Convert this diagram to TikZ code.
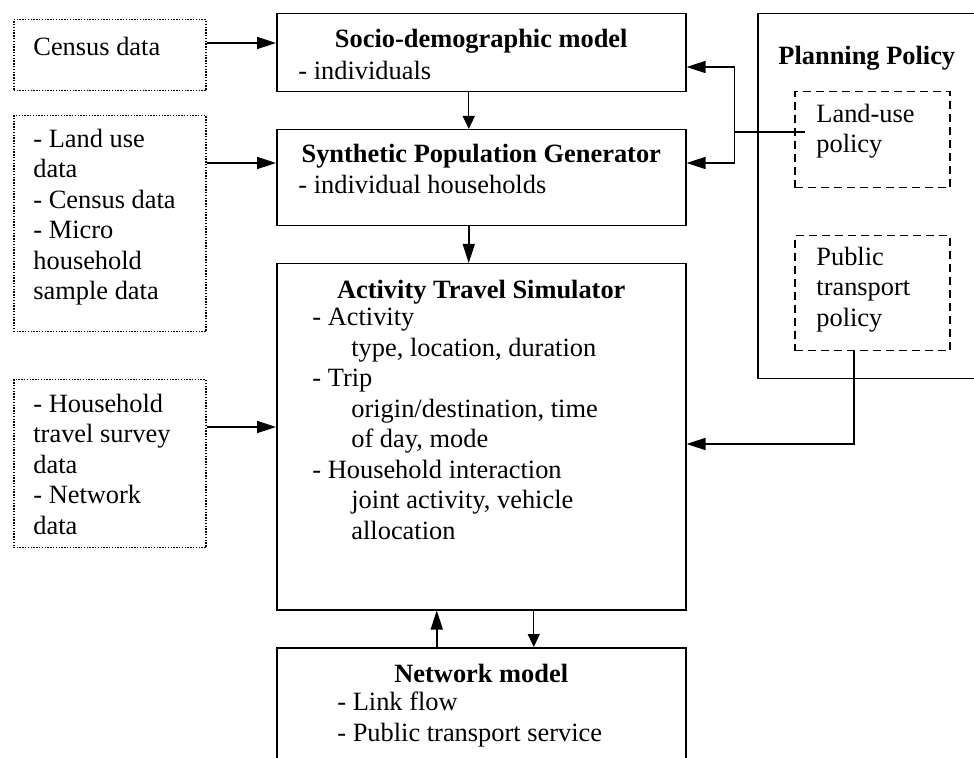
\documentclass[tikz,border=0pt]{standalone}
\usepackage{fontspec}
\setmainfont{Liberation Serif}
\usetikzlibrary{arrows.meta}

\newcommand{\indt}{\hspace*{19.5pt}}

\begin{document}
\begin{tikzpicture}[x=0.5pt,y=-0.5pt,>={Triangle[length=9.5pt,width=6pt]},
  every node/.style={font=\fontsize{13.2}{15.25}\selectfont},
  solidbox/.style={draw,line width=0.75pt,inner sep=0pt,anchor=north west},
  dotbox/.style={draw,line width=0.75pt,dash pattern=on 0.7pt off 0.7pt,inner sep=0pt,anchor=north west},
  dashbox/.style={draw,line width=0.75pt,dash pattern=on 4pt off 2.5pt,inner sep=0pt,anchor=north west},
  ttl/.style={anchor=base,font=\fontsize{13.2}{15.25}\selectfont\bfseries,inner sep=0pt},
  txt/.style={anchor=north west,yshift=10.675pt,align=left,inner sep=0pt,execute at begin node=\strut},
  link/.style={->,line width=0.8pt},
  thinlink/.style={-{Triangle[length=6.5pt,width=6pt]},line width=0.45pt}]
\useasboundingbox (0,0) rectangle (974,758);
\clip (0,0) rectangle (974,758);

% data sources
\node[dotbox,minimum width=96pt,minimum height=35.5pt] (census) at (13,19) {};
\node[dotbox,minimum width=96pt,minimum height=108pt] (landuse) at (13,115) {};
\node[dotbox,minimum width=96pt,minimum height=84pt] (hhdata) at (13,379) {};

% model chain
\node[solidbox,minimum width=204.5pt,minimum height=39pt] (socio) at (276,13) {};
\node[solidbox,minimum width=204.5pt,minimum height=48pt] (spg) at (276,129) {};
\node[solidbox,minimum width=204.5pt,minimum height=173pt] (ats) at (276,263) {};
\node[solidbox,minimum width=204.5pt,minimum height=80pt] (network) at (276,647) {};

% policy
\node[solidbox,minimum width=125pt,minimum height=182.5pt] (planning) at (757,13) {};
\node[dashbox,minimum width=77.5pt,minimum height=48pt] (lupolicy) at (794,91) {};
\node[dashbox,minimum width=77.5pt,minimum height=57.5pt] (ptpolicy) at (794,235) {};

% texts
\node[txt] (censustxt) at ([shift={(10pt,-18pt)}]census.north west) {Census data};
\node[txt] (landusetxt) at ([shift={(10pt,-17.5pt)}]landuse.north west) {- Land use\\data\\- Census data\\- Micro\\household\\sample data};
\node[txt] (hhdatatxt) at ([shift={(10pt,-18pt)}]hhdata.north west) {- Household\\travel survey\\data\\- Network\\data};

\node[ttl] (sociottl) at ([yshift=-17.5pt]socio.north) {Socio-demographic model};
\node[txt] (sociotxt) at ([shift={(11pt,-33pt)}]socio.north west) {- individuals};
\node[ttl] (spgttl) at ([yshift=-17pt]spg.north) {Synthetic Population Generator};
\node[txt] (spgtxt) at ([shift={(11pt,-32pt)}]spg.north west) {- individual households};
\node[ttl] (atsttl) at ([yshift=-18pt]ats.north) {Activity Travel Simulator};
\node[txt] (atstxt) at ([shift={(18pt,-33pt)}]ats.north west) {- Activity\\\indt type, location, duration\\- Trip\\\indt origin/destination, time\\\indt of day, mode\\- Household interaction\\\indt joint activity, vehicle\\\indt allocation};
\node[ttl] (networkttl) at ([yshift=-17.5pt]network.north) {Network model};
\node[txt] (networktxt) at ([shift={(30.5pt,-33pt)}]network.north west) {- Link flow\\- Public transport service};
\node[ttl,anchor=base west] (planningttl) at ([shift={(10.5pt,-26pt)}]planning.north west) {Planning Policy};
\node[txt] (lutxt) at ([shift={(11pt,-17pt)}]lupolicy.north west) {Land-use\\policy};
\node[txt] (pttxt) at ([shift={(11pt,-16.5pt)}]ptpolicy.north west) {Public\\transport\\policy};

% inputs
\coordinate (censusout) at ([yshift=-12pt]census.north east);
\draw[link] (censusout) -- (censusout -| socio.west);
\coordinate (landuseout) at ([yshift=-24pt]landuse.north east);
\draw[link] (landuseout) -- (landuseout -| spg.west);
\coordinate (hhdataout) at ([yshift=-24pt]hhdata.north east);
\draw[link] (hhdataout) -- (hhdataout -| ats.west);
\draw[thinlink] ([xshift=-6.25pt]socio.south) -- ([xshift=-6.25pt]spg.north);
\draw[link] ([xshift=-6.25pt]spg.south) -- ([xshift=-6.25pt]ats.north);
% land-use policy feeds both upper models
\coordinate (luout) at ([shift={(5.5pt,-20.5pt)}]lupolicy.north west);
\coordinate (socioin) at ([yshift=-27pt]socio.north east);
\coordinate (spgin) at ([yshift=-17pt]spg.north east);
\coordinate (bus) at ([xshift=24pt]socioin);
\draw[link] (luout) -| (bus) -- (socioin);
\draw[link] (bus |- luout) |- (spgin);
% public transport policy
\coordinate (atsin) at ([yshift=-90.5pt]ats.north east);
\draw[link] ([xshift=-9.25pt]ptpolicy.south) |- (atsin);
% simulator <-> network
\draw[link] ([xshift=-22.25pt]network.north) -- ([xshift=-22.25pt]ats.south);
\draw[thinlink] ([xshift=26.25pt]ats.south) -- ([xshift=26.25pt]network.north);
\end{tikzpicture}
\end{document}
